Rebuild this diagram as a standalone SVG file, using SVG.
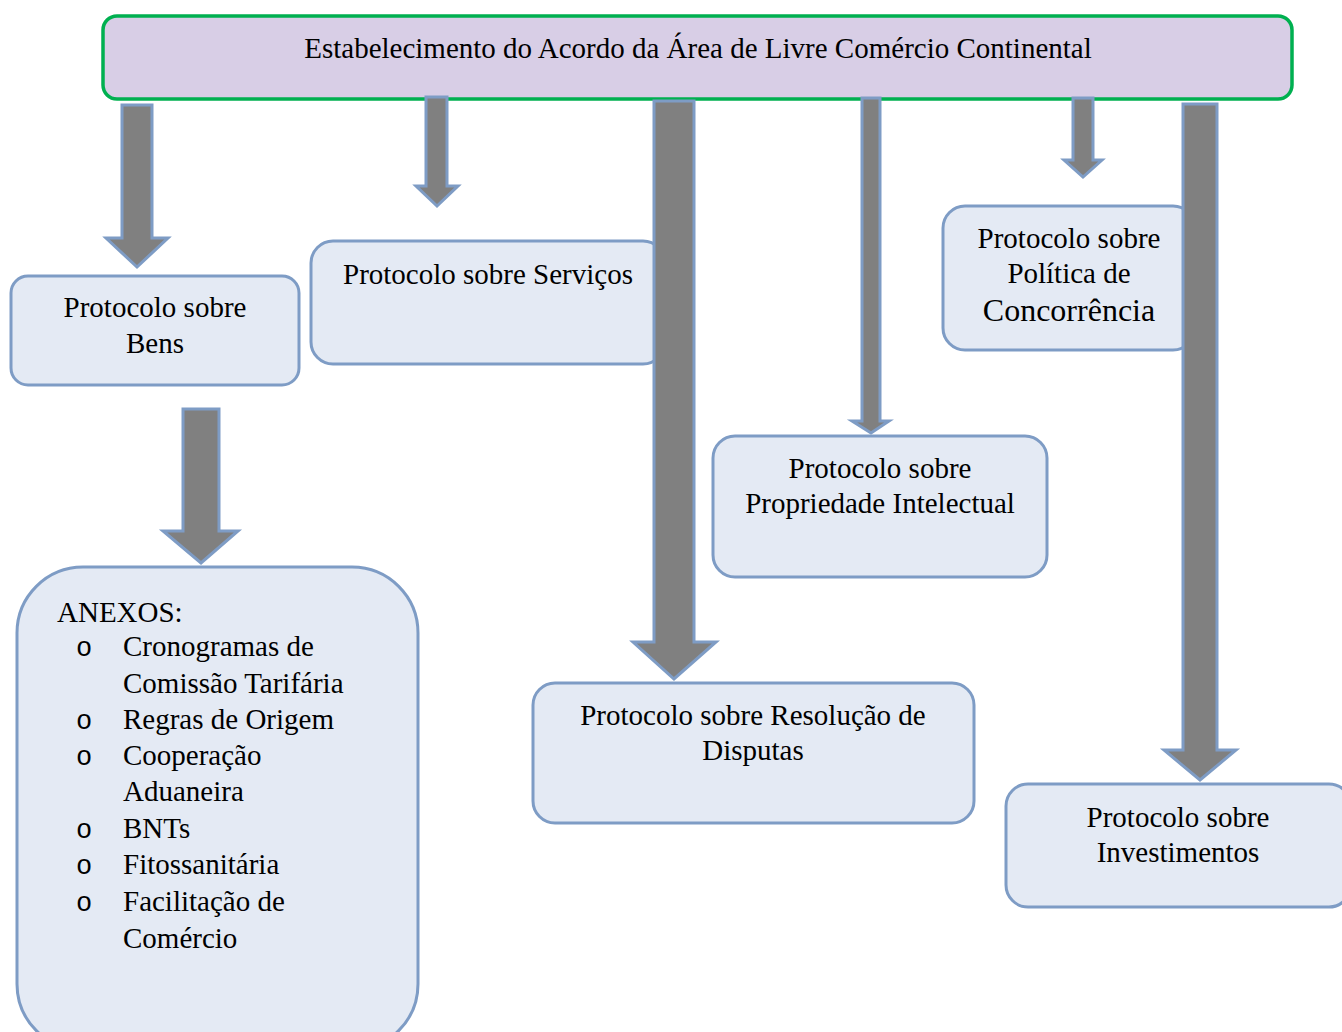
<svg xmlns="http://www.w3.org/2000/svg" width="1342" height="1032" viewBox="0 0 1342 1032">
  <style>
    text { font-family: "Liberation Serif", "Times New Roman", serif; font-size: 29px; fill: #000; }
    .c { text-anchor: middle; }
    .bullet { font-family: "Liberation Mono", "Courier New", monospace; font-size: 27px; }
    .box { fill: #E4EAF4; stroke: #7E9CC5; stroke-width: 3; }
    .head { fill: #D8CEE6; stroke: #00B050; stroke-width: 3.5; }
    .arrow { fill: #808080; stroke: #7E9CC5; stroke-width: 3; stroke-linejoin: miter; }
  </style>
  <rect width="1342" height="1032" fill="#FFFFFF"/>

  <!-- root: the continental agreement -->
  <g id="acordo">
    <rect class="head" x="103" y="16" width="1189" height="83" rx="14"/>
    <text class="c" x="698" y="58">Estabelecimento do Acordo da Área de Livre Comércio Continental</text>
  </g>

  <g id="bens">
    <rect class="box" x="11" y="276" width="288" height="109" rx="17"/>
    <text class="c" x="155" y="317">Protocolo sobre</text>
    <text class="c" x="155" y="353">Bens</text>
  </g>

  <g id="servicos">
    <rect class="box" x="311" y="241" width="354" height="123" rx="22"/>
    <text class="c" x="488" y="284">Protocolo sobre Serviços</text>
  </g>

  <g id="concorrencia">
    <rect class="box" x="943" y="206" width="252" height="144" rx="22"/>
    <text class="c" x="1069" y="248">Protocolo sobre</text>
    <text class="c" x="1069" y="283">Política de</text>
    <text class="c" x="1069" y="321" style="font-size:32px">Concorrência</text>
  </g>

  <g id="propriedade">
    <rect class="box" x="713" y="436" width="334" height="141" rx="22"/>
    <text class="c" x="880" y="478">Protocolo sobre</text>
    <text class="c" x="880" y="513">Propriedade Intelectual</text>
  </g>

  <g id="resolucao">
    <rect class="box" x="533" y="683" width="441" height="140" rx="22"/>
    <text class="c" x="753" y="725">Protocolo sobre Resolução de</text>
    <text class="c" x="753" y="760">Disputas</text>
  </g>

  <g id="investimentos">
    <rect class="box" x="1006" y="784" width="345" height="123" rx="22"/>
    <text class="c" x="1178" y="827">Protocolo sobre</text>
    <text class="c" x="1178" y="862">Investimentos</text>
  </g>

  <g id="anexos">
    <rect class="box" x="17" y="567" width="401" height="483" rx="66"/>
    <text x="57" y="622">ANEXOS:</text>
    <text class="bullet" x="76" y="656">o</text>
    <text x="123" y="656">Cronogramas de</text>
    <text x="123" y="693">Comissão Tarifária</text>
    <text class="bullet" x="76" y="729">o</text>
    <text x="123" y="729">Regras de Origem</text>
    <text class="bullet" x="76" y="765">o</text>
    <text x="123" y="765">Cooperação</text>
    <text x="123" y="801">Aduaneira</text>
    <text class="bullet" x="76" y="838">o</text>
    <text x="123" y="838">BNTs</text>
    <text class="bullet" x="76" y="874">o</text>
    <text x="123" y="874">Fitossanitária</text>
    <text class="bullet" x="76" y="911">o</text>
    <text x="123" y="911">Facilitação de</text>
    <text x="123" y="948">Comércio</text>
  </g>

  <!-- block arrows from the agreement down to each protocol -->
  <g id="connectors">
    <polygon class="arrow" points="122,105 152,105 152,238 168,238 137,267 106,238 122,238"/>
    <polygon class="arrow" points="426,97 447,97 447,186 458,186 437,206 416,186 426,186"/>
    <polygon class="arrow" points="654,101 694,101 694,642 716,642 674,679 633,642 654,642"/>
    <polygon class="arrow" points="862,98 880,98 880,421 889,421 871,433 852,421 862,421"/>
    <polygon class="arrow" points="1073,98 1093,98 1093,160 1102,160 1083,177 1064,160 1073,160"/>
    <polygon class="arrow" points="1183,104 1217,104 1217,750 1236,750 1200,780 1164,750 1183,750"/>
    <polygon class="arrow" points="183,409 219,409 219,531 238,531 201,563 163,531 183,531"/>
  </g>
</svg>
